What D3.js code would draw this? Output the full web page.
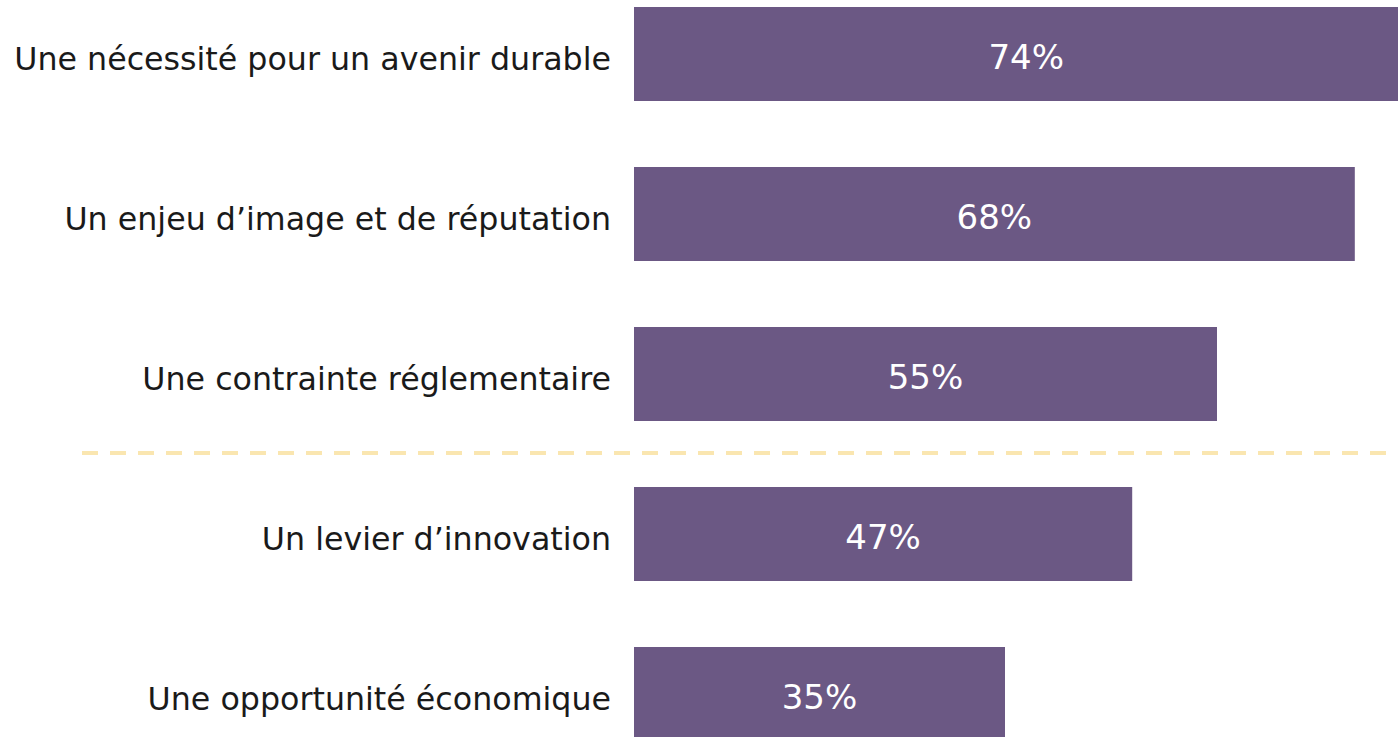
<!DOCTYPE html>
<html lang="fr">
	<head>
		<meta charset="utf-8">
		<title>Perception</title>
		<script type="text/javascript" src="https://cdn.jsdelivr.net/npm/d3@7"></script>
		<style type="text/css">
			body { margin: 0; background: #ffffff; }
			svg { display: block; }
			text { font-family: "DejaVu Sans", sans-serif; }
		</style>
	</head>
	<body>
		<script type="text/javascript">

			//Width and height
			var w = 1398;
			var h = 737;

			var categories = [ "Une nécessité pour un avenir durable",
							   "Un enjeu d’image et de réputation",
							   "Une contrainte réglementaire",
							   "Un levier d’innovation",
							   "Une opportunité économique" ];
			var values = [ 74, 68, 55, 47, 35 ];

			var xScale = d3.scaleLinear()
							.domain([0, 100])
							.range([634, 1694]);

			var yScale = d3.scaleBand()
							.domain(categories)
							.range([7, 741])
							.paddingInner(0.4125)
							.paddingOuter(0);

			var svg = d3.select("body")
						.append("svg")
						.attr("width", w)
						.attr("height", h);

			//Bars
			svg.selectAll("rect")
			   .data(values)
			   .enter()
			   .append("rect")
			   .attr("x", xScale(0))
			   .attr("y", function(d, i) { return yScale(categories[i]); })
			   .attr("width", function(d) { return xScale(d) - xScale(0); })
			   .attr("height", yScale.bandwidth())
			   .attr("fill", "#6b5884");

			//Value labels
			svg.selectAll("text.val")
			   .data(values)
			   .enter()
			   .append("text")
			   .attr("class", "val")
			   .attr("x", function(d) { return (xScale(0) + xScale(d)) / 2; })
			   .attr("y", function(d, i) { return yScale(categories[i]) + yScale.bandwidth() / 2 + 15; })
			   .attr("text-anchor", "middle")
			   .attr("fill", "#ffffff")
			   .attr("font-size", 34)
			   .text(function(d) { return d + "%"; });

			//Category labels
			svg.selectAll("text.cat")
			   .data(categories)
			   .enter()
			   .append("text")
			   .attr("class", "cat")
			   .attr("x", 611)
			   .attr("y", function(d) { return yScale(d) + yScale.bandwidth() / 2 + 16; })
			   .attr("text-anchor", "end")
			   .attr("fill", "#1a1a1a")
			   .attr("font-size", 31.7)
			   .text(function(d) { return d; });

			//Dashed separator between 3rd and 4th bars
			var sepY = (yScale(categories[2]) + yScale.bandwidth() + yScale(categories[3])) / 2;
			svg.append("line")
			   .attr("x1", 82)
			   .attr("x2", 1390)
			   .attr("y1", sepY - 1)
			   .attr("y2", sepY - 1)
			   .attr("stroke", "#fae6b0")
			   .attr("stroke-width", 4)
			   .attr("stroke-dasharray", "16 12");

		</script>
	</body>
</html>
